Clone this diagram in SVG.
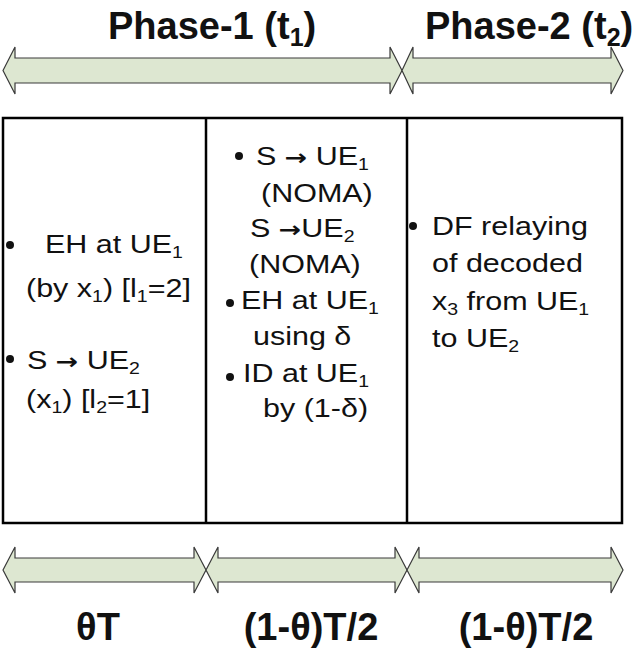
<svg xmlns="http://www.w3.org/2000/svg" width="640" height="652" viewBox="0 0 640 652">
<style>
.arr{fill:#dde7d1;stroke:#3a3a3a;stroke-width:1.2;stroke-linejoin:miter}
.box{fill:none;stroke:#000;stroke-width:2.5}
.t{font-family:"Liberation Sans",Arial,sans-serif;font-size:25px;fill:#111}
.b{font-family:"Liberation Sans",Arial,sans-serif;font-size:38px;font-weight:bold;fill:#111}
.s{font-size:16px}
.bs{font-size:25px}
.ar{font-family:"DejaVu Sans",sans-serif;font-weight:bold;font-size:22px}
.dot{fill:#111}
</style>
<rect width="640" height="652" fill="#fff"/>
<g id="phase-arrows">
<polygon class="arr" points="3,70.5 15,47 15,58 390,58 390,47 402,70.5 390,94 390,83 15,83 15,94"/>
<polygon class="arr" points="402,70.5 413,47 413,58 611,58 611,47 623,70.5 611,94 611,83 413,83 413,94"/>
</g>
<g id="titles">
<text class="b" x="108" y="39">Phase-1 (t<tspan class="bs" dy="7">1</tspan><tspan dy="-7">)</tspan></text>
<text class="b" x="425" y="39">Phase-2 (t<tspan class="bs" dy="7">2</tspan><tspan dy="-7">)</tspan></text>
</g>
<g id="frame">
<rect class="box" x="3" y="118" width="619" height="405"/>
<line class="box" x1="206" y1="118" x2="206" y2="523"/>
<line class="box" x1="407" y1="118" x2="407" y2="523"/>
</g>
<g id="col1">
<circle class="dot" cx="10" cy="245" r="4"/>
<text class="t" transform="translate(45,253) scale(1.22,1)">EH at UE<tspan class="s" dy="5">1</tspan></text>
<text class="t" transform="translate(26,297) scale(1.22,1)">(by x<tspan class="s" dy="5">1</tspan><tspan dy="-5">) [l</tspan><tspan class="s" dy="5">1</tspan><tspan dy="-5">=2]</tspan></text>
<circle class="dot" cx="10" cy="359" r="4"/>
<text class="t" transform="translate(27,369) scale(1.22,1)">S <tspan class="ar">→</tspan> UE<tspan class="s" dy="5">2</tspan></text>
<text class="t" transform="translate(26,408) scale(1.22,1)">(x<tspan class="s" dy="5">1</tspan><tspan dy="-5">) [l</tspan><tspan class="s" dy="5">2</tspan><tspan dy="-5">=1]</tspan></text>
</g>
<g id="col2">
<circle class="dot" cx="239" cy="156" r="4"/>
<text class="t" transform="translate(256,165) scale(1.22,1)">S <tspan class="ar">→</tspan> UE<tspan class="s" dy="5">1</tspan></text>
<text class="t" transform="translate(261,202) scale(1.22,1)">(NOMA)</text>
<text class="t" transform="translate(250,237) scale(1.22,1)">S <tspan class="ar">→</tspan>UE<tspan class="s" dy="5">2</tspan></text>
<text class="t" transform="translate(249,273) scale(1.22,1)">(NOMA)</text>
<circle class="dot" cx="230" cy="303" r="4"/>
<text class="t" transform="translate(241,309) scale(1.22,1)">EH at UE<tspan class="s" dy="5">1</tspan></text>
<text class="t" transform="translate(253,345) scale(1.22,1)">using δ</text>
<circle class="dot" cx="230" cy="377" r="4"/>
<text class="t" transform="translate(243,382) scale(1.22,1)">ID at UE<tspan class="s" dy="5">1</tspan></text>
<text class="t" transform="translate(263,417) scale(1.22,1)">by (1-δ)</text>
</g>
<g id="col3">
<circle class="dot" cx="413" cy="226" r="4"/>
<text class="t" transform="translate(432,235) scale(1.22,1)">DF relaying</text>
<text class="t" transform="translate(432,272) scale(1.22,1)">of decoded</text>
<text class="t" transform="translate(432,310) scale(1.22,1)">x<tspan class="s" dy="5">3</tspan><tspan dy="-5"> from UE</tspan><tspan class="s" dy="5">1</tspan></text>
<text class="t" transform="translate(432,347) scale(1.22,1)">to UE<tspan class="s" dy="5">2</tspan></text>
</g>
<g id="time-arrows">
<polygon class="arr" points="3,570 15,547 15,558 194,558 194,547 206,570 194,593 194,582 15,582 15,593"/>
<polygon class="arr" points="206,570 218,547 218,558 395,558 395,547 407,570 395,593 395,582 218,582 218,593"/>
<polygon class="arr" points="407,570 419,547 419,558 611,558 611,547 623,570 611,593 611,582 419,582 419,593"/>
</g>
<g id="durations">
<text class="b" x="98" y="640" text-anchor="middle">θT</text>
<text class="b" x="311" y="640" text-anchor="middle">(1-θ)T/2</text>
<text class="b" x="526" y="640" text-anchor="middle">(1-θ)T/2</text>
</g>
</svg>
